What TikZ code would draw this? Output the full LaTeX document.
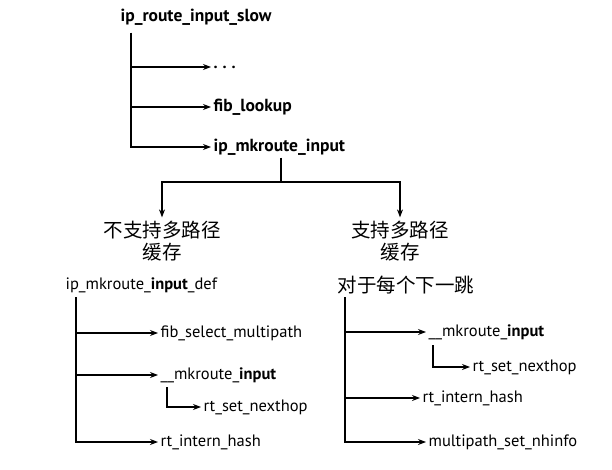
\documentclass[tikz,border=0pt]{standalone}
\usepackage{fontspec}
\setmainfont{PT Sans}
\newfontfamily\cjk{Noto Sans CJK SC}
\usetikzlibrary{arrows.meta}
\tikzset{
  fn/.style={anchor=west,inner sep=2pt,font=\fontsize{16.5}{19}\selectfont},
  topfn/.style={fn,font=\fontsize{17.5}{20}\selectfont\bfseries},
  cn/.style={align=center,inner sep=3pt,font=\fontsize{19.5}{22}\cjk},
}
\begin{document}
\begin{tikzpicture}[x=1pt,y=-1pt,>={Stealth[length=8pt,width=6pt]},line width=1.2pt]
        \useasboundingbox (0,0) rectangle (612,470);
        % top level
        \node[topfn] (slow) at (118,17) {ip\_route\_input\_slow};
        \node[fn] (dots) at (211,67) {\textbf{.\hspace{5pt}.\hspace{5pt}.}};
        \node[topfn] (fib) at (211,107) {fib\_lookup};
        \node[topfn] (mkin) at (211,147) {ip\_mkroute\_input};
        \coordinate (t0) at (131,33);
        \draw[->] (t0) |- (dots.west);
        \draw[->] (t0) |- (fib.west);
        \draw[->] (t0) |- (mkin.west);
        % the two cases
        \node[cn] (nomp) at (162,241) {不支持多路径\\缓存};
        \node[cn] (mp) at (400,241) {支持多路径\\缓存};
        \coordinate (split) at (281,182);
        \draw[->] (mkin.south -| split) |- (nomp.north |- split) -- (nomp.north);
        \draw[->] (mkin.south -| split) |- (mp.north |- split) -- (mp.north);
        % without multipath cache
        \node[fn] (def) at (63,285) {ip\_mkroute\_\textbf{input}\_def};
        \node[fn] (fsm) at (158,333) {fib\_select\_multipath};
        \node[fn] (mk1) at (158,375) {\_\_mkroute\_\textbf{input}};
        \node[fn] (nh1) at (201,407) {rt\_set\_nexthop};
        \node[fn] (ih1) at (158,442) {rt\_intern\_hash};
        \coordinate (t1) at (76,297);
        \draw[->] (t1) |- (fsm.west);
        \draw[->] (t1) |- (mk1.west);
        \draw[->] (t1) |- (ih1.west);
        \coordinate (s1) at (167,387);
        \draw[->] (s1) |- (nh1.west);
        % with multipath cache
        \node[fn,font=\fontsize{19.5}{22}\cjk] (each) at (335,285) {对于每个下一跳};
        \node[fn] (mk2) at (426,332) {\_\_mkroute\_\textbf{input}};
        \node[fn] (nh2) at (470,367) {rt\_set\_nexthop};
        \node[fn] (ih2) at (420,398) {rt\_intern\_hash};
        \node[fn] (ms2) at (426,442) {multipath\_set\_nhinfo};
        \coordinate (t2) at (345,297);
        \draw[->] (t2) |- (mk2.west);
        \draw[->] (t2) |- (ih2.west);
        \draw[->] (t2) |- (ms2.west);
        \coordinate (s2) at (433,345);
        \draw[->] (s2) |- (nh2.west);
\end{tikzpicture}
\end{document}
